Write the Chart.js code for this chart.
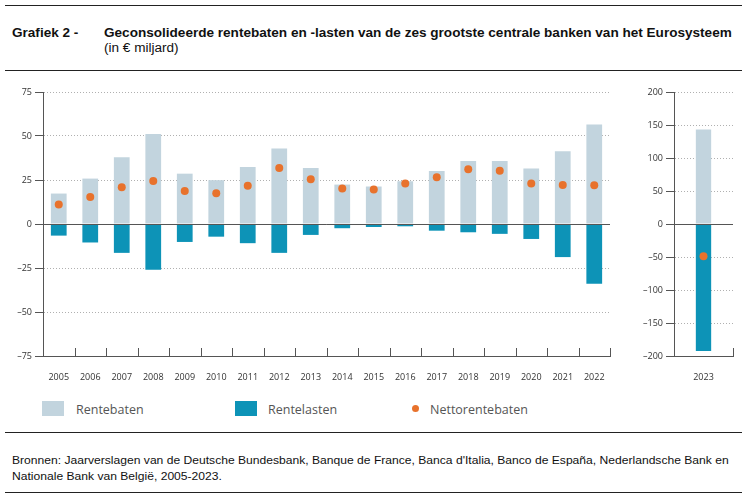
<!DOCTYPE html>
<html lang="nl">
<head>
  <meta charset="UTF-8" />
  <title>Grafiek 2</title>
  <script src="https://cdn.jsdelivr.net/npm/chart.js"></script>
  <style>
    html, body { margin: 0; padding: 0; background: #fff; }
    body { width: 747px; height: 495px; position: relative; overflow: hidden; font-family: 'Liberation Sans', Arial, sans-serif; color: #111; }
    .rule { position: absolute; left: 5px; width: 737px; height: 0; border-top: 1.5px solid #222; }
    .wide { transform: scaleX(1.13); transform-origin: left top; white-space: nowrap; }
    #hdrNum { position: absolute; left: 12px; top: 26px; font-weight: bold; font-size: 12px; }
    #hdrTitle { position: absolute; left: 104px; top: 26px; font-weight: bold; font-size: 12px; }
    #hdrSub { position: absolute; left: 104px; top: 41px; font-size: 12px; }
    #leftBox { position: absolute; left: 0; top: 80px; width: 620px; height: 300px; }
    #rightBox { position: absolute; left: 620px; top: 80px; width: 127px; height: 300px; }
    .legend { position: absolute; top: 401px; font-family: 'Open Sans', sans-serif; font-size: 12.5px; color: #555; }
    .swatch { position: absolute; top: 401px; width: 22px; height: 15px; }
    .dot { position: absolute; width: 7px; height: 7px; border-radius: 50%; background: #e8722c; top: 405px; left: 412px; }
    #source { position: absolute; left: 12px; top: 452px; font-size: 11px; line-height: 16px; transform: scaleX(1.1); }
  </style>
</head>
<body>
  <div class="rule" style="top:5px"></div>
  <div id="hdrNum" class="wide">Grafiek 2 -</div>
  <div id="hdrTitle" class="wide">Geconsolideerde rentebaten en -lasten van de zes grootste centrale banken van het Eurosysteem</div>
  <div id="hdrSub" class="wide">(in € miljard)</div>
  <div class="rule" style="top:70px"></div>

  <div id="leftBox"><canvas id="leftChart"></canvas></div>
  <div id="rightBox"><canvas id="rightChart"></canvas></div>

  <div class="swatch" style="left:42px;background:#c2d4de"></div>
  <div class="legend" style="left:76px">Rentebaten</div>
  <div class="swatch" style="left:235px;background:#0d93b7"></div>
  <div class="legend" style="left:268px">Rentelasten</div>
  <div class="dot"></div>
  <div class="legend" style="left:430px">Nettorentebaten</div>

  <div class="rule" style="top:432px"></div>
  <div id="source" class="wide">Bronnen: Jaarverslagen van de Deutsche Bundesbank, Banque de France, Banca d'Italia, Banco de España, Nederlandsche Bank en<br>Nationale Bank van België, 2005-2023.</div>
  <div class="rule" style="top:492px"></div>

  <script>
    // data, € miljard
    const years = ['2005', '2006', '2007', '2008', '2009', '2010', '2011', '2012', '2013',
                   '2014', '2015', '2016', '2017', '2018', '2019', '2020', '2021', '2022'];
    const rentebaten  = [17.3, 25.8, 37.9, 51.2, 28.6, 24.9, 32.4, 42.9, 31.8, 22.4, 21.3, 24.3, 30.1, 35.8, 35.8, 31.6, 41.4, 56.5];
    const rentelasten = [-6.6, -10.5, -16.4, -26.0, -10.2, -7.2, -10.9, -16.4, -6.2, -2.4, -1.7, -1.3, -3.8, -4.7, -5.6, -8.5, -18.8, -33.9];
    const netto       = [11.1, 15.4, 20.9, 24.5, 18.8, 17.5, 21.7, 31.8, 25.4, 20.2, 19.6, 23.0, 26.6, 31.1, 30.3, 23.0, 22.2, 22.0];

    const years2 = ['2023'];
    const rentebaten2 = [143];
    const rentelasten2 = [-192.5];
    const netto2 = [-49];

    const lightBlue = '#c2d4de';
    const teal = '#0d93b7';
    const orange = '#e8722c';
    const axisColor = '#555';
    const tickFont = { family: 'Open Sans', size: 9 };

    // zero line + small upward ticks on the x axis between categories
    const axisExtras = {
      id: 'axisExtras',
      afterDatasetsDraw(chart) {
        const { ctx, chartArea, scales: { x, y } } = chart;
        ctx.save();
        ctx.strokeStyle = axisColor;
        ctx.lineWidth = 1;
        const y0 = Math.round(y.getPixelForValue(0)) + 0.5;
        ctx.beginPath();
        ctx.moveTo(chartArea.left, y0);
        ctx.lineTo(chartArea.right, y0);
        const n = chart.data.labels.length;
        for (let i = 1; i <= n; i++) {
          let px = i < n ? (x.getPixelForValue(i - 1) + x.getPixelForValue(i)) / 2 : chartArea.right;
          px = Math.round(px) + 0.5;
          ctx.moveTo(px, chartArea.bottom);
          ctx.lineTo(px, chartArea.bottom - 8);
        }
        ctx.stroke();
        ctx.restore();
      }
    };

    function makeChart(id, labels, bat, last, net, min, max, step, yWidth, padRight, barPct) {
      return new Chart(document.getElementById(id), {
        type: 'bar',
        data: {
          labels: labels,
          datasets: [
            { label: 'Rentebaten', data: bat, backgroundColor: lightBlue, barPercentage: barPct, categoryPercentage: 1, order: 2 },
            { label: 'Rentelasten', data: last, backgroundColor: teal, barPercentage: barPct, categoryPercentage: 1, order: 1 },
            { type: 'line', label: 'Nettorentebaten', data: net, showLine: false, pointRadius: 4, pointHoverRadius: 4,
              pointBackgroundColor: orange, pointBorderWidth: 0, order: 0 }
          ]
        },
        options: {
          responsive: true,
          maintainAspectRatio: false,
          animation: false,
          layout: { padding: { top: 12, right: padRight, left: 0, bottom: 0 } },
          plugins: { legend: { display: false }, tooltip: { enabled: false } },
          scales: {
            x: {
              stacked: true,
              grid: { display: false },
              border: { display: true, color: axisColor, width: 1 },
              ticks: { color: '#333', font: tickFont, padding: 8, maxRotation: 0 },
              afterFit(s) { s.height = 24; }
            },
            y: {
              min: min, max: max,
              ticks: {
                stepSize: step, color: '#333', font: tickFont, padding: 3,
                callback: v => String(v).replace('-', '\u2013')
              },
              grid: { color: '#b0b0b0', tickColor: axisColor, tickLength: 8, lineWidth: 1 },
              border: { display: true, color: axisColor, dash: [1, 2] },
              afterFit(s) { s.width = yWidth; }
            }
          }
        },
        plugins: [axisExtras]
      });
    }

    makeChart('leftChart', years, rentebaten, rentelasten, netto, -75, 75, 25, 43, 10, 0.5);
    makeChart('rightChart', years2, rentebaten2, rentelasten2, netto2, -200, 200, 50, 54, 14, 0.26);
  </script>
</body>
</html>
